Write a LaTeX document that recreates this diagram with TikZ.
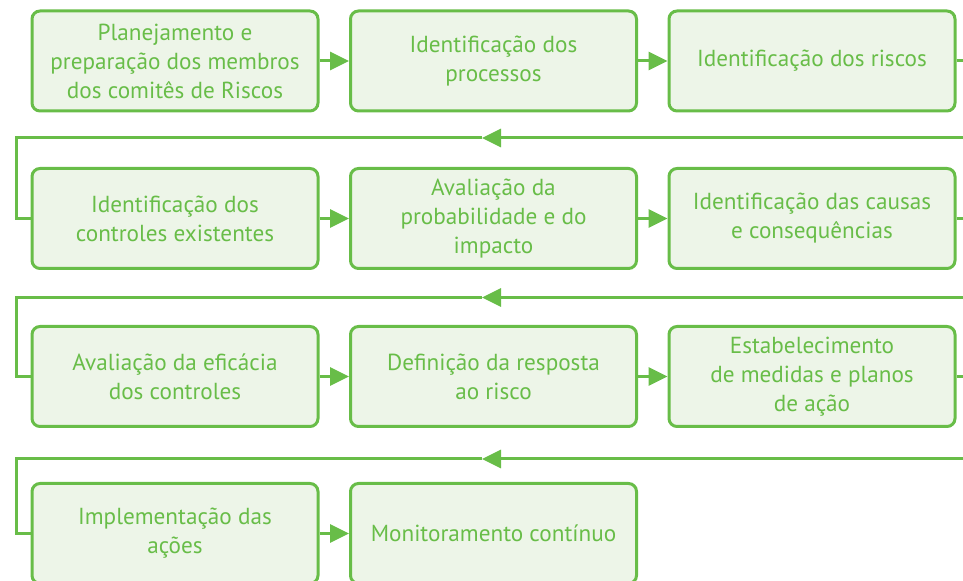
\documentclass[tikz,border=0pt]{standalone}
\usepackage{fontspec}
\setmainfont{PT Sans}
\usetikzlibrary{arrows.meta, positioning}
\definecolor{riskgreen}{RGB}{104,189,72}
\definecolor{riskfill}{RGB}{237,245,232}

\begin{document}
\begin{tikzpicture}[
        x=0.5pt, y=-0.5pt,
        box/.style={rectangle, draw=riskgreen, fill=riskfill, line width=1.5pt, rounded corners=4pt, minimum width=143pt, minimum height=50pt, align=center, text=riskgreen, font=\fontsize{11.6}{14.5}\selectfont},
        link/.style={draw=riskgreen, line width=1.5pt},
        arrow/.style={link, -{Triangle[length=9.5pt, width=9pt]}}
    ]
        \useasboundingbox (0,0) rectangle (963,581);
        \clip (0,0) rectangle (963,581);

        % First row
        \node[box] (plan) at (175,61) {Planejamento e\\preparação dos membros\\dos comitês de Riscos};
        \node[box] (proc) at (493.5,61) {Identificação dos\\processos};
        \node[box] (risk) at (812,61) {Identificação dos riscos};

        % Second row
        \node[box] (ctrl) at (175,218.5) {Identificação dos\\controles existentes};
        \node[box] (prob) at (493.5,218.5) {Avaliação da\\probabilidade e do\\impacto};
        \node[box] (caus) at (812,218.5) {Identificação das causas\\e consequências};

        % Third row
        \node[box] (efic) at (175,376.5) {Avaliação da eficácia\\dos controles};
        \node[box] (resp) at (493.5,376.5) {Definição da resposta\\ao risco};
        \node[box] (meas) at (812,376.5) {Estabelecimento\\de medidas e planos\\de ação};

        % Fourth row
        \node[box] (impl) at (175,533.5) {Implementação das\\ações};
        \node[box] (moni) at (493.5,533.5) {Monitoramento contínuo};

        % Turning points of the return lines
        \coordinate (r1) at (985,138);
        \coordinate (m1) at (482,138);
        \coordinate (l1) at (16,138);
        \coordinate (r2) at (985,297.5);
        \coordinate (m2) at (482,297.5);
        \coordinate (l2) at (16,297.5);
        \coordinate (r3) at (985,459);
        \coordinate (m3) at (482,459);
        \coordinate (l3) at (16,459);

        % Arrows
        \draw[arrow] (plan) -- (proc);
        \draw[arrow] (proc) -- (risk);
        \draw[arrow] (ctrl) -- (prob);
        \draw[arrow] (prob) -- (caus);
        \draw[arrow] (efic) -- (resp);
        \draw[arrow] (resp) -- (meas);
        \draw[arrow] (impl) -- (moni);

        % Return lines
        \draw[arrow] (risk.east) -| (r1) -- (m1);
        \draw[link] (m1) -- (l1) |- (ctrl.west);
        \draw[arrow] (caus.east) -| (r2) -- (m2);
        \draw[link] (m2) -- (l2) |- (efic.west);
        \draw[arrow] (meas.east) -| (r3) -- (m3);
        \draw[link] (m3) -- (l3) |- (impl.west);
    \end{tikzpicture}
\end{document}
